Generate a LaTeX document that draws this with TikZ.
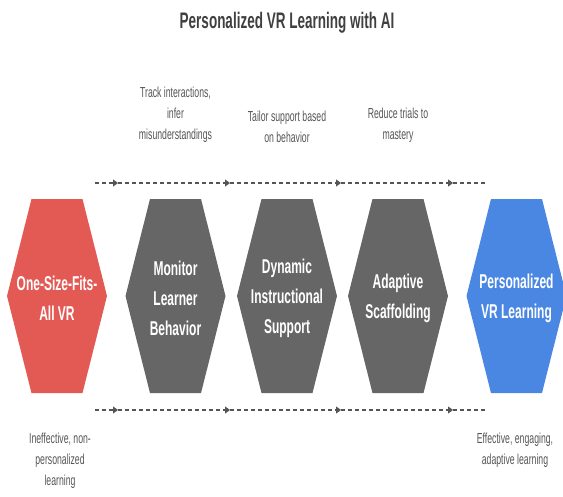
\documentclass[tikz,border=0pt]{standalone}
\usepackage{fontspec}
\setmainfont[FakeStretch=0.6]{Liberation Sans}
\usetikzlibrary{arrows.meta}

\definecolor{redhex}{HTML}{E35A54}
\definecolor{grayhex}{HTML}{666666}
\definecolor{bluehex}{HTML}{4A87E3}
\definecolor{linegray}{HTML}{555555}

\tikzset{
	hextext/.style={text=white, align=center, font=\fontsize{20}{30}\selectfont\bfseries},
	note/.style={align=center, text=linegray, font=\fontsize{14.5}{21}\selectfont},
	flow/.style={draw=linegray, line width=1.2pt, dash pattern=on 4pt off 3pt,
		-{Triangle[length=5pt,width=7pt]}}
}

\begin{document}
\begin{tikzpicture}[x=1pt, y=-1pt]
			\useasboundingbox (0,0) rectangle (563,496);
			
			%title
			\node[text=black!75, font=\fontsize{22.5}{26}\selectfont\bfseries] (title) at (287, 23){Personalized VR Learning with AI};
			
			%hexagons
			\foreach \x/\c in {57/redhex, 175.5/grayhex, 287/grayhex, 398/grayhex, 516.5/bluehex}{
				\fill[\c] (\x-50, 296) -- (\x-25.5, 199) -- (\x+25.5, 199) -- (\x+50, 296)
					-- (\x+25.5, 393) -- (\x-25.5, 393) -- cycle;
			}
			
			%steps
			\node[hextext] (oneSize) at (57, 298){One-Size-Fits-\\All VR};
			\node[hextext] (monitor) at (175.5, 298){Monitor\\Learner\\Behavior};
			\node[hextext] (dynamic) at (287, 298){Dynamic\\Instructional\\Support};
			\node[hextext] (adaptive) at (398, 298){Adaptive\\Scaffolding};
			\node[hextext] (personal) at (516.5, 298){Personalized\\VR Learning};
			
			%notes
			\node[note, anchor=south] (track) at (175.5, 146){Track interactions,\\infer\\misunderstandings};
			\node[note, anchor=south] (tailor) at (287, 146){Tailor support based\\on behavior};
			\node[note, anchor=south] (reduce) at (398, 146){Reduce trials to\\mastery};
			\node[note, anchor=north] (ineffective) at (60, 429){Ineffective, non-\\personalized\\learning};
			\node[note, anchor=north] (effective) at (515, 429){Effective, engaging,\\adaptive learning};
			
			%dashed time lines
			\foreach \y/\n in {183/top, 410/bot}{
				\coordinate (\n0) at (95, \y);
				\coordinate (\n1) at (118, \y);
				\coordinate (\n2) at (230, \y);
				\coordinate (\n3) at (341, \y);
				\coordinate (\n4) at (453, \y);
				\coordinate (\n5) at (487, \y);
				\draw[flow] (\n0) -- (\n1);
				\draw[flow] (\n1) -- (\n2);
				\draw[flow] (\n2) -- (\n3);
				\draw[flow] (\n3) -- (\n4);
				\draw[flow, -] (\n4) -- (\n5);
			}
		\end{tikzpicture}
\end{document}
